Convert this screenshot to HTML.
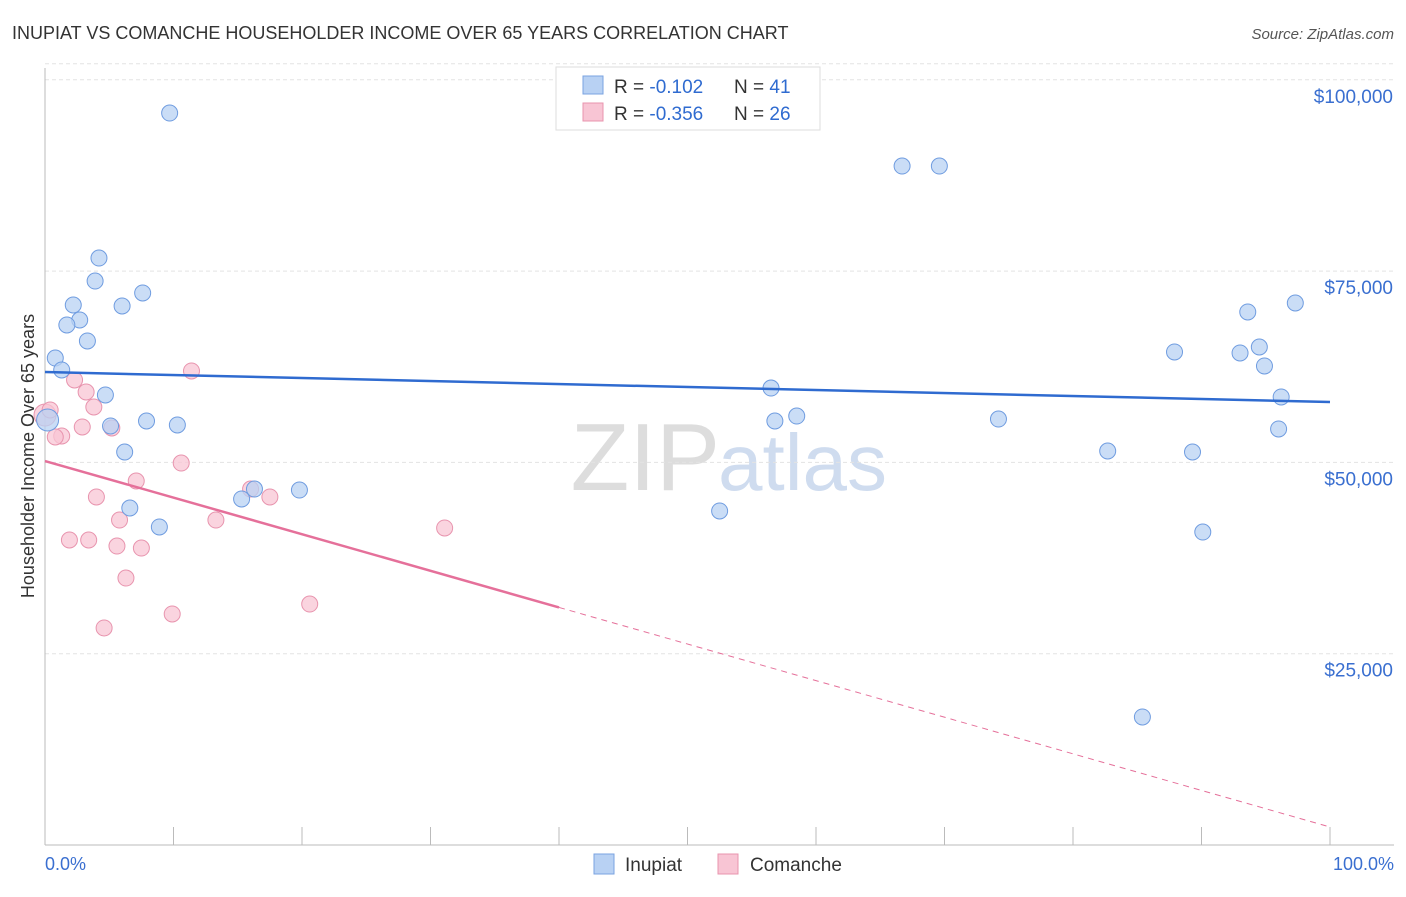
<!DOCTYPE html>
<html><head><meta charset="utf-8">
<style>
body{margin:0;background:#fff;font-family:"Liberation Sans",sans-serif;}
svg text{font-family:"Liberation Sans",sans-serif;}
</style></head>
<body>
<svg width="1406" height="892" viewBox="0 0 1406 892">
<text x="12" y="39" font-size="18" fill="#333">INUPIAT VS COMANCHE HOUSEHOLDER INCOME OVER 65 YEARS CORRELATION CHART</text>
<text x="1394" y="39" font-size="15" fill="#555" font-style="italic" text-anchor="end">Source: ZipAtlas.com</text>
<text x="720" y="490" font-size="96" fill="#ddd" text-anchor="end" font-family="Liberation Serif">ZIP</text>
<text x="718" y="490" font-size="80" fill="#cfdcef">atlas</text>
<g id="grid"></g>
<g id="axes"></g>
<g id="marks"></g>
<text transform="translate(34,456) rotate(-90)" font-size="18" fill="#333" text-anchor="middle">Householder Income Over 65 years</text>
<text x="45" y="870" font-size="18" fill="#3a6fd0">0.0%</text>
<text x="1394" y="870" font-size="18" fill="#3a6fd0" text-anchor="end">100.0%</text>
<g>
<rect x="556" y="67" width="264" height="63" fill="#fff" stroke="#ddd"/>
<rect x="583" y="76" width="20" height="18" fill="#b8d1f3" stroke="#7aa3e0"/>
<rect x="583" y="103" width="20" height="18" fill="#f8c5d4" stroke="#e894ae"/>
<text x="614" y="93" font-size="19" fill="#333">R = <tspan fill="#2f6bd0">-0.102</tspan></text>
<text x="734" y="93" font-size="19" fill="#333">N = <tspan fill="#2f6bd0">41</tspan></text>
<text x="614" y="120" font-size="19" fill="#333">R = <tspan fill="#2f6bd0">-0.356</tspan></text>
<text x="734" y="120" font-size="19" fill="#333">N = <tspan fill="#2f6bd0">26</tspan></text>
</g>
<g>
<rect x="594" y="854" width="20" height="20" fill="#b8d1f3" stroke="#7aa3e0"/>
<text x="625" y="871" font-size="19" fill="#333">Inupiat</text>
<rect x="718" y="854" width="20" height="20" fill="#f8c5d4" stroke="#e894ae"/>
<text x="750" y="871" font-size="19" fill="#333">Comanche</text>
</g>
</svg>
<script>
const yTicks=[25000,50000,75000,100000];
const yTickLabels=["$25,000","$50,000","$75,000","$100,000"];
const xTicks=[0,10,20,30,40,50,60,70,80,90,100];
const inupiatX=[9.7,66.7,69.6,4.2,3.9,7.6,2.2,6.0,2.7,1.7,3.3,0.8,1.3,4.7,5.1,7.9,10.3,6.2,0.2,6.6,8.9,15.3,16.3,19.8,52.5,56.5,56.8,58.5,74.2,82.7,89.3,90.1,85.4,87.9,93.0,93.6,94.5,94.9,97.3,96.2,96.0];
const inupiatY=[95660,88730,88730,76710,73700,72140,70570,70440,68610,67960,65870,63640,62080,58810,54760,55410,54890,51360,55540,44040,41560,45220,46520,46390,43650,59720,55410,56060,55670,51490,51360,40900,16730,64430,64300,69660,65080,62600,70830,58550,54370];
const comancheX=[0,1.3,2.3,3.2,3.8,2.9,5.2,11.4,10.6,7.1,4.0,5.8,1.9,3.4,5.6,7.5,6.3,4.6,9.9,13.3,16.0,17.5,20.6,31.1,0.4,0.8];
const comancheY=[56190,53450,60770,59200,57240,54630,54500,61950,49920,47570,45480,42470,39860,39860,39070,38810,34890,28360,30190,42470,46520,45480,31490,41430,56850,53320];
const inupiatTrend=[61810,57890];
const comancheTrend=[50180,2350];
const comancheSolidEnd=40;
const NS="http://www.w3.org/2000/svg";
const xs=v=>45+v*12.85, ys=v=>845-v/25000*191.3;
function mk(p,t,a){const e=document.createElementNS(NS,t);for(const k in a)e.setAttribute(k,a[k]);document.getElementById(p).appendChild(e);return e;}
yTicks.forEach((v,i)=>{
 const l=mk('grid','line',{x1:45,x2:1394,y1:ys(v),y2:ys(v),stroke:'#e3e3e3','stroke-dasharray':'4,3'});
 
 
 const t=mk('grid','text',{x:1393,y:ys(v)+23,'font-size':19,fill:'#3a6fd0','text-anchor':'end'});
 t.textContent=yTickLabels[i];
 
 
});
let g=mk('grid','line',{x1:45,x2:1394,y1:ys(100000)-16,y2:ys(100000)-16,stroke:'#e3e3e3','stroke-dasharray':'4,3'});


let ax=mk('axes','line',{x1:45,x2:45,y1:68,y2:845,stroke:'#bbb'});


ax=mk('axes','line',{x1:45,x2:1394,y1:845,y2:845,stroke:'#bbb'});


xTicks.forEach(v=>{const t=mk('axes','line',{x1:xs(v),x2:xs(v),y1:827,y2:845,stroke:'#bbb'});
 
 });
function dot(x,y,fill,stroke,name,r){const c=mk('marks','circle',{cx:xs(x),cy:ys(y),r:r,fill:fill,stroke:stroke,'stroke-width':1,'fill-opacity':0.75});
 
 }
comancheX.forEach((x,i)=>dot(x,comancheY[i],'#f8c5d4','#e894ae','comanche-point',i==0?11:8));
inupiatX.forEach((x,i)=>dot(x,inupiatY[i],'#b8d1f3','#6f9ce0','inupiat-point',i==18?11:8));
let l=mk('marks','line',{x1:xs(0),y1:ys(inupiatTrend[0]),x2:xs(100),y2:ys(inupiatTrend[1]),stroke:'#2f6bd0','stroke-width':2.5});


const cm=comancheTrend[0]+(comancheTrend[1]-comancheTrend[0])*comancheSolidEnd/100;
l=mk('marks','line',{x1:xs(0),y1:ys(comancheTrend[0]),x2:xs(comancheSolidEnd),y2:ys(cm),stroke:'#e5709a','stroke-width':2.5});


l=mk('marks','line',{x1:xs(comancheSolidEnd),y1:ys(cm),x2:xs(100),y2:ys(comancheTrend[1]),stroke:'#e5709a','stroke-width':1,'stroke-dasharray':'6,5'});


</script>
</body></html>
